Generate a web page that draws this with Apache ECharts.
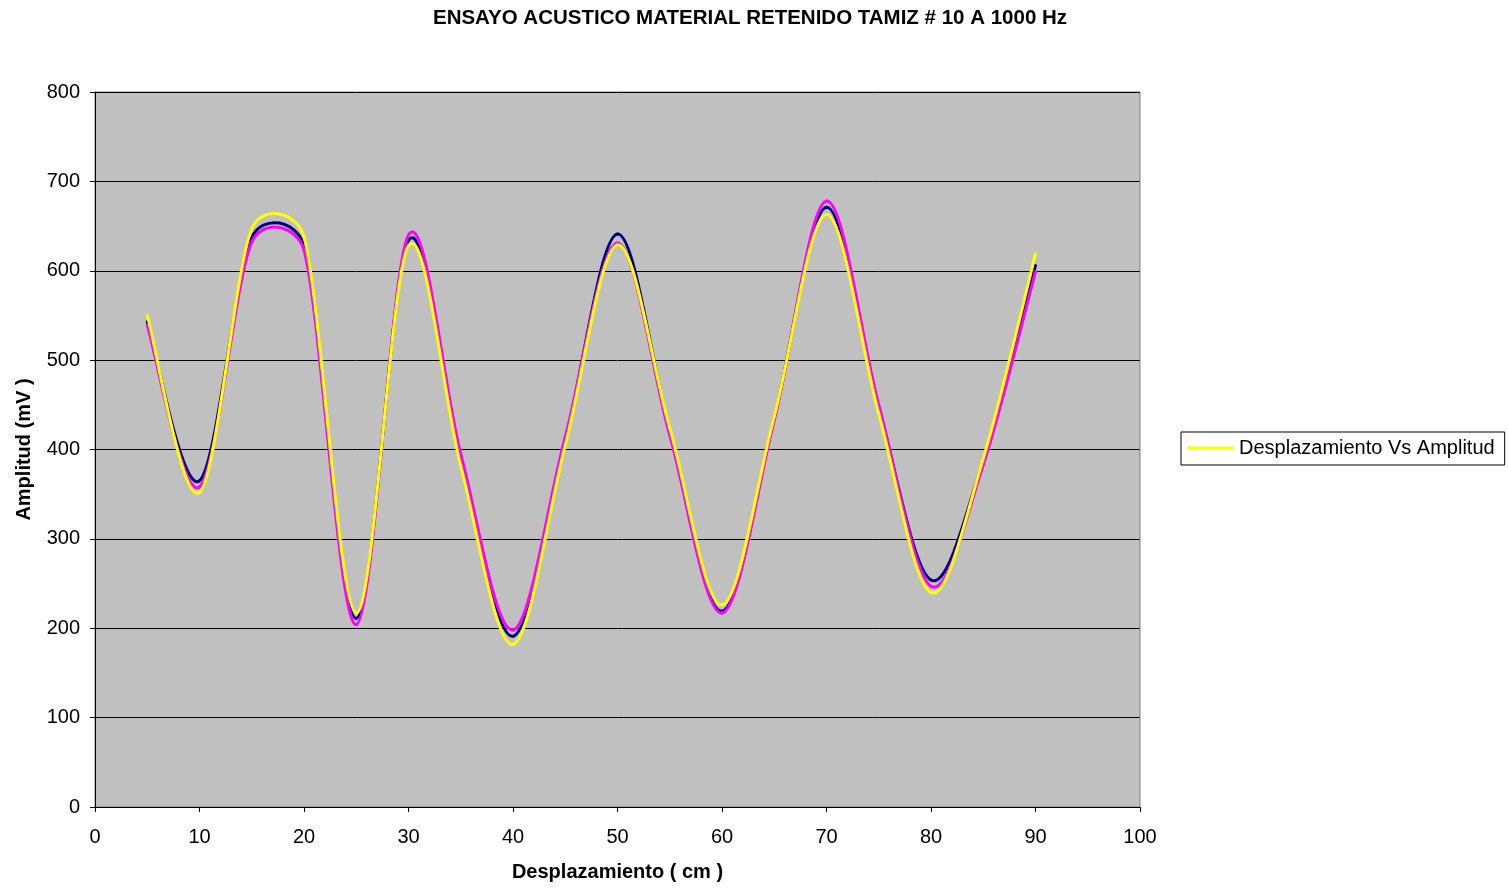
<!DOCTYPE html>
<html>
<head>
<meta charset="utf-8">
<script src="https://cdn.jsdelivr.net/npm/echarts@6/dist/echarts.min.js"></script>
<style>
  html, body { margin: 0; padding: 0; background: #ffffff; }
  #chart { width: 1508px; height: 888px; }
</style>
</head>
<body>
<div id="chart"></div>
<script>
// Displacement (cm) at which each reading was taken
const desplazamiento = [5, 10, 15, 20, 25, 30, 35, 40, 45, 50, 55, 60, 65, 70, 75, 80, 85, 90];

// Amplitude readings (mV), three runs
const lecturaA = [543, 365, 637, 628, 211, 634, 390, 191, 410, 641, 420, 219, 435, 671, 447, 254, 388, 606];
const lecturaB = [539, 358, 632, 623, 204, 640, 395, 198, 414, 631, 416, 217, 433, 678, 450, 247, 383, 599];
const lecturaC = [550, 352, 647, 638, 217, 628, 382, 182, 405, 629, 424, 226, 437, 663, 440, 240, 390, 619];

const titulo = 'ENSAYO ACUSTICO MATERIAL RETENIDO TAMIZ # 10 A 1000 Hz';
const nombreSerie = 'Desplazamiento Vs Amplitud';

const pares = (ys) => desplazamiento.map((x, i) => [x, ys[i]]);

const font = 'Arial, "Liberation Sans", sans-serif';

const chart = echarts.init(document.getElementById('chart'), null, { renderer: 'canvas' });

// Smoothed polyline drawn as cubic Bezier segments: each data item i draws the
// piece from point i to point i+1; control points follow the neighbouring
// points (1/6 of the chord) and are capped at half the segment length.
function curva(name, ys, color) {
  const data = pares(ys);
  return {
    name: name,
    type: 'custom',
    coordinateSystem: 'cartesian2d',
    data: data,
    encode: { x: 0, y: 1 },
    itemStyle: { color: color },
    silent: true,
    animation: false,
    renderItem: function (params, api) {
      const i = params.dataIndex;
      const n = data.length;
      if (i >= n - 1) return null;
      const c = (k) => api.coord(data[Math.max(0, Math.min(n - 1, k))]);
      const p0 = c(i - 1), p1 = c(i), p2 = c(i + 1), p3 = c(i + 2);
      const dist = (a, b) => Math.hypot(b[0] - a[0], b[1] - a[1]);
      const d12 = dist(p1, p2), d02 = dist(p0, p2), d13 = dist(p1, p3);
      let f1 = 1 / 6, f2 = 1 / 6;
      if (d02 / 6 > d12 / 2) f1 = d12 / (2 * d02);
      if (d13 / 6 > d12 / 2) f2 = d12 / (2 * d13);
      return {
        type: 'bezierCurve',
        shape: {
          x1: p1[0], y1: p1[1],
          x2: p2[0], y2: p2[1],
          cpx1: p1[0] + f1 * (p2[0] - p0[0]),
          cpy1: p1[1] + f1 * (p2[1] - p0[1]),
          cpx2: p2[0] - f2 * (p3[0] - p1[0]),
          cpy2: p2[1] - f2 * (p3[1] - p1[1])
        },
        style: { stroke: color, fill: null, lineWidth: 3, lineCap: 'round' }
      };
    }
  };
}

chart.setOption({
  animation: false,
  backgroundColor: '#ffffff',
  title: {
    text: titulo,
    left: 745,
    top: 3,
    textAlign: 'center',
    textStyle: { fontFamily: font, fontSize: 20.5, fontWeight: 'bold', color: '#000000' }
  },
  grid: {
    left: 95,
    right: 368,
    top: 92,
    bottom: 81,
    show: true,
    backgroundColor: '#c0c0c0',
    borderColor: '#808080',
    borderWidth: 1
  },
  legend: {
    data: [{ name: nombreSerie, icon: 'rect', itemStyle: { color: '#ffff00' } }],
    left: 1181,
    top: 432,
    orient: 'vertical',
    backgroundColor: '#ffffff',
    borderColor: '#000000',
    borderWidth: 1,
    borderRadius: 0,
    padding: [6, 10, 7, 6],
    itemWidth: 47,
    itemHeight: 3,
    textStyle: { fontFamily: font, fontSize: 20, color: '#000000' }
  },
  xAxis: {
    type: 'value',
    min: 0,
    max: 100,
    interval: 10,
    name: 'Desplazamiento ( cm )',
    nameLocation: 'middle',
    nameGap: 55,
    nameTextStyle: { fontFamily: font, fontSize: 20, fontWeight: 'bold', color: '#000000' },
    axisLine: { show: true, onZero: false, lineStyle: { color: '#000000', width: 1 } },
    axisTick: { show: true, length: 5, lineStyle: { color: '#000000' } },
    axisLabel: { fontFamily: font, fontSize: 20, color: '#000000', margin: 20 },
    splitLine: { show: false }
  },
  yAxis: {
    type: 'value',
    min: 0,
    max: 800,
    interval: 100,
    name: 'Amplitud (mV )',
    nameLocation: 'middle',
    nameGap: 61,
    nameRotate: 90,
    nameTextStyle: { fontFamily: font, fontSize: 20, fontWeight: 'bold', color: '#000000' },
    axisLine: { show: true, lineStyle: { color: '#000000', width: 1 } },
    axisTick: { show: true, length: 5, lineStyle: { color: '#000000' } },
    axisLabel: { fontFamily: font, fontSize: 20, color: '#000000', margin: 15 },
    splitLine: { show: true, lineStyle: { color: '#000000', width: 1 } }
  },
  series: [
    curva('Lectura 1', lecturaA, '#000080'),
    curva('Lectura 2', lecturaB, '#ff00ff'),
    curva(nombreSerie, lecturaC, '#ffff00')
  ]
});
</script>
</body>
</html>
